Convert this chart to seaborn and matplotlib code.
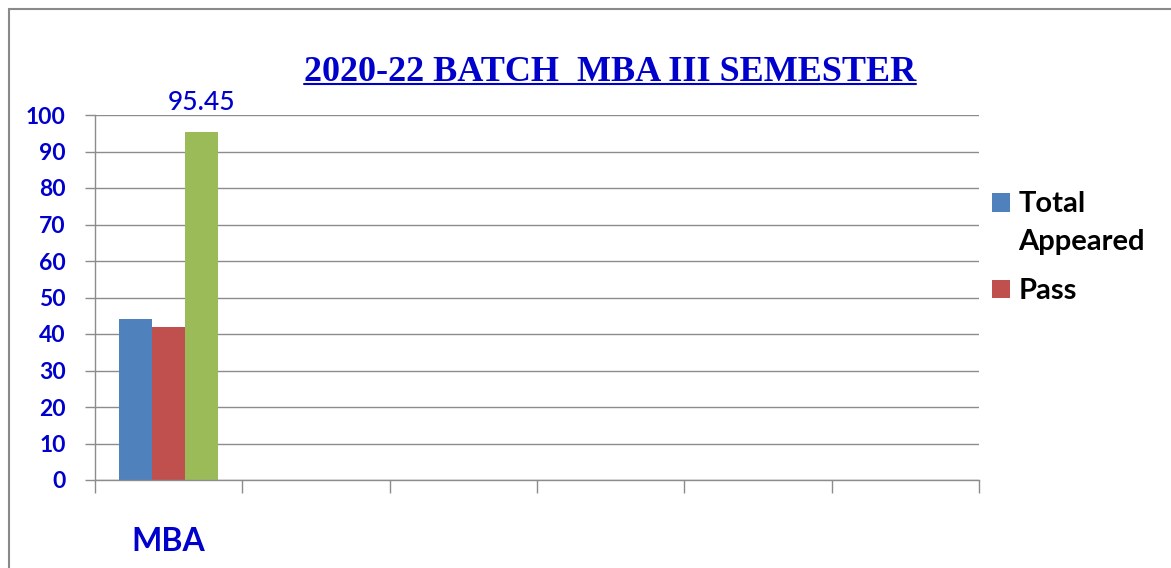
import matplotlib
matplotlib.use("Agg")
import matplotlib.pyplot as plt
import seaborn as sns
import pandas as pd
import numpy as np
from matplotlib.patches import Rectangle
from matplotlib.lines import Line2D

# ---- data ----
categories = ["MBA"]
series = ["Total\nAppeared", "Pass", "Pass %"]
values = [44, 42, 95.45]
legend_series = ["Total\nAppeared", "Pass"]
yticks = list(range(0, 101, 10))
n_slots = 6
title = "2020-22 BATCH  MBA III SEMESTER"
colors = ["#4F81BD", "#C0504D", "#9BBB59"]

sns.set_theme(style="white")
plt.rcParams['font.family'] = ['Lato', 'DejaVu Sans']

BLUE_TXT = "#0000CC"
GRAY = "#8c8c8c"

df = pd.DataFrame({"cat": categories * len(series), "series": series, "value": values})

W, H = 1171, 568
fig = plt.figure(figsize=(W / 100, H / 100), dpi=100)
ax = fig.add_axes([95 / W, 1 - 480 / H, (979 - 95) / W, (480 - 115) / H])

sns.barplot(data=df, x="cat", y="value", hue="series", hue_order=series,
            palette=colors, width=0.67, saturation=1, ax=ax,
            errorbar=None, linewidth=0)

handles, labels = ax.get_legend_handles_labels()
if ax.get_legend() is not None:
    ax.get_legend().remove()

ax.set_xlim(-0.5, n_slots - 0.5)
ax.set_ylim(0, 100)
ax.set_xlabel("")
ax.set_ylabel("")

ax.set_xticks([0])
ax.set_xticklabels(categories)
ax.set_xticks(np.arange(-0.5, n_slots, 1), minor=True)
ax.tick_params(axis='x', which='major', bottom=True, length=0, pad=34,
               labelsize=23, labelcolor=BLUE_TXT)
ax.tick_params(axis='x', which='minor', bottom=True, length=9, width=1,
               color=GRAY, direction='out')
for t in ax.get_xticklabels():
    t.set_fontweight('bold')

ax.set_yticks(yticks)
ax.tick_params(axis='y', left=True, length=7, width=1, color=GRAY,
               direction='out', pad=14, labelsize=16.5, labelcolor=BLUE_TXT)
for t in ax.get_yticklabels():
    t.set_fontweight('bold')

ax.yaxis.grid(True, color=GRAY, lw=1)
ax.xaxis.grid(False)
ax.set_axisbelow(True)
for s in ["top", "right"]:
    ax.spines[s].set_visible(False)
for s in ["left", "bottom"]:
    ax.spines[s].set_color(GRAY)
    ax.spines[s].set_linewidth(1)

# value label on third series
ax.bar_label(ax.containers[2], fmt='%.2f', padding=12, color=BLUE_TXT,
             fontsize=19, fontweight='medium')

# legend (first two series only)
sel = [i for i, l in enumerate(labels) if l in legend_series]
leg = fig.legend([handles[i] for i in sel], [labels[i] for i in sel],
                 loc="upper left", bbox_to_anchor=(992 / W, 1 - 191 / H),
                 frameon=False, fontsize=21, handlelength=0.6, handleheight=0.6,
                 handletextpad=0.3, labelspacing=0.8, borderpad=0, borderaxespad=0)
for t in leg.get_texts():
    t.set_fontweight('bold')
    t.set_color('black')
    t.set_linespacing(1.57)

# title with underline
tt = fig.text(610 / W, 1 - 81 / H, title, ha='center', va='baseline',
              family=['Liberation Serif', 'DejaVu Serif'], fontweight='bold',
              fontsize=26, color=BLUE_TXT)
fig.canvas.draw()
# align the first legend handle with the first line of its two-line label
h0 = leg.legend_handles[0]
h0.set_y(h0.get_y() + 15)
bb = tt.get_window_extent()
fig.add_artist(Line2D([bb.x0 / W, bb.x1 / W], [1 - 84 / H, 1 - 84 / H],
                      transform=fig.transFigure, color=BLUE_TXT, lw=1.5))

# outer frame
fig.add_artist(Rectangle((9 / W, -0.1), 1.2, (H - 9) / H + 0.1, fill=False,
                         edgecolor="#8a8a8a", lw=1.5, transform=fig.transFigure,
                         clip_on=False))

fig.savefig("out.png", dpi=100)
